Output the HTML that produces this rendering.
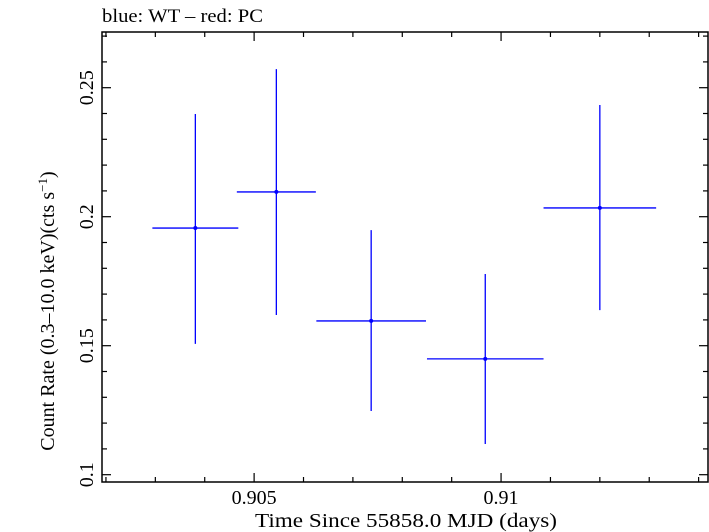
<!DOCTYPE html>
<html><head><meta charset="utf-8"><style>
body{margin:0;background:#fff;}
svg{display:block;font-family:"Liberation Serif",serif;}
</style></head><body>
<svg id="chart" width="709" height="532" viewBox="0 0 709 532">
<text x="102" y="22" font-size="19" textLength="161" lengthAdjust="spacingAndGlyphs">blue: WT – red: PC</text>
<rect x="102" y="32" width="606" height="450" fill="none" stroke="#000" stroke-width="1.5"/>
<g id="ticks"></g><g id="marks"></g>
<text x="406" y="527" font-size="20" text-anchor="middle" textLength="302" lengthAdjust="spacingAndGlyphs">Time Since 55858.0 MJD (days)</text>
<text transform="translate(54,311) rotate(-90)" font-size="20" text-anchor="middle">Count Rate (0.3–10.0 keV)(cts s<tspan dy="-7" font-size="13">−1</tspan><tspan dy="7">)</tspan></text>
</svg>
<script>
const times=[0.90381,0.90545,0.90737,0.90968,0.9120];
const timeErr=[0.00087,0.0008,0.00111,0.00118,0.00114];
const rates=[0.1956,0.2096,0.1596,0.1449,0.2034];
const rateHi=[0.2398,0.2572,0.1948,0.1778,0.2433];
const rateLo=[0.1507,0.1619,0.1247,0.1119,0.1638];
const xTicks=[0.905,0.91];
const xTickLabels=["0.905","0.91"];
const yTicks=[0.1,0.15,0.2,0.25];
const yTickLabels=["0.1","0.15","0.2","0.25"];
const X0=102,X1=708,Y0=32,Y1=482;
const xMin=0.90192,xMax=0.91419,yMin=0.09717,yMax=0.27159;
const sx=v=>X0+(v-xMin)/(xMax-xMin)*(X1-X0);
const sy=v=>Y1-(v-yMin)/(yMax-yMin)*(Y1-Y0);
const NS="http://www.w3.org/2000/svg";
const tg=document.getElementById('ticks'),mg=document.getElementById('marks');
function ln(p,x1,y1,x2,y2,c,w){const l=document.createElementNS(NS,'line');l.setAttribute('x1',x1);l.setAttribute('y1',y1);l.setAttribute('x2',x2);l.setAttribute('y2',y2);l.setAttribute('stroke',c);l.setAttribute('stroke-width',w);p.appendChild(l);return l;}
for(let k=902;k<=914;k++){const v=k/1000;const x=sx(v);const major=k%5===0;const L=major?9:5;
const a=ln(tg,x,Y1,x,Y1-L,'#000',1.2);


const b=ln(tg,x,Y0,x,Y0+L,'#000',1.2);

}
for(let k=10;k<=27;k++){const v=k/100;const y=sy(v);const major=k%5===0;const L=major?9:5;
const a=ln(tg,X0,y,X0+L,y,'#000',1.2);


const b=ln(tg,X1,y,X1-L,y,'#000',1.2);

}
xTicks.forEach((v,i)=>{const t=document.createElementNS(NS,'text');t.setAttribute('x',sx(v));t.setAttribute('y',504);t.setAttribute('font-size','20');t.setAttribute('text-anchor','middle');t.textContent=xTickLabels[i];


tg.appendChild(t);});
yTicks.forEach((v,i)=>{const t=document.createElementNS(NS,'text');t.setAttribute('transform','translate(93,'+sy(v)+') rotate(-90)');t.setAttribute('font-size','20');t.setAttribute('text-anchor','middle');t.textContent=yTickLabels[i];


tg.appendChild(t);});
times.forEach((t,i)=>{const g=document.createElementNS(NS,'g');


ln(g,sx(t-timeErr[i]),sy(rates[i]),sx(t+timeErr[i]),sy(rates[i]),'#0000ff',1.3);
ln(g,sx(t),sy(rateHi[i]),sx(t),sy(rateLo[i]),'#0000ff',1.3);
const c=document.createElementNS(NS,'circle');c.setAttribute('cx',sx(t));c.setAttribute('cy',sy(rates[i]));c.setAttribute('r',2);c.setAttribute('fill','#0000ff');g.appendChild(c);
mg.appendChild(g);});
</script>
</body></html>
